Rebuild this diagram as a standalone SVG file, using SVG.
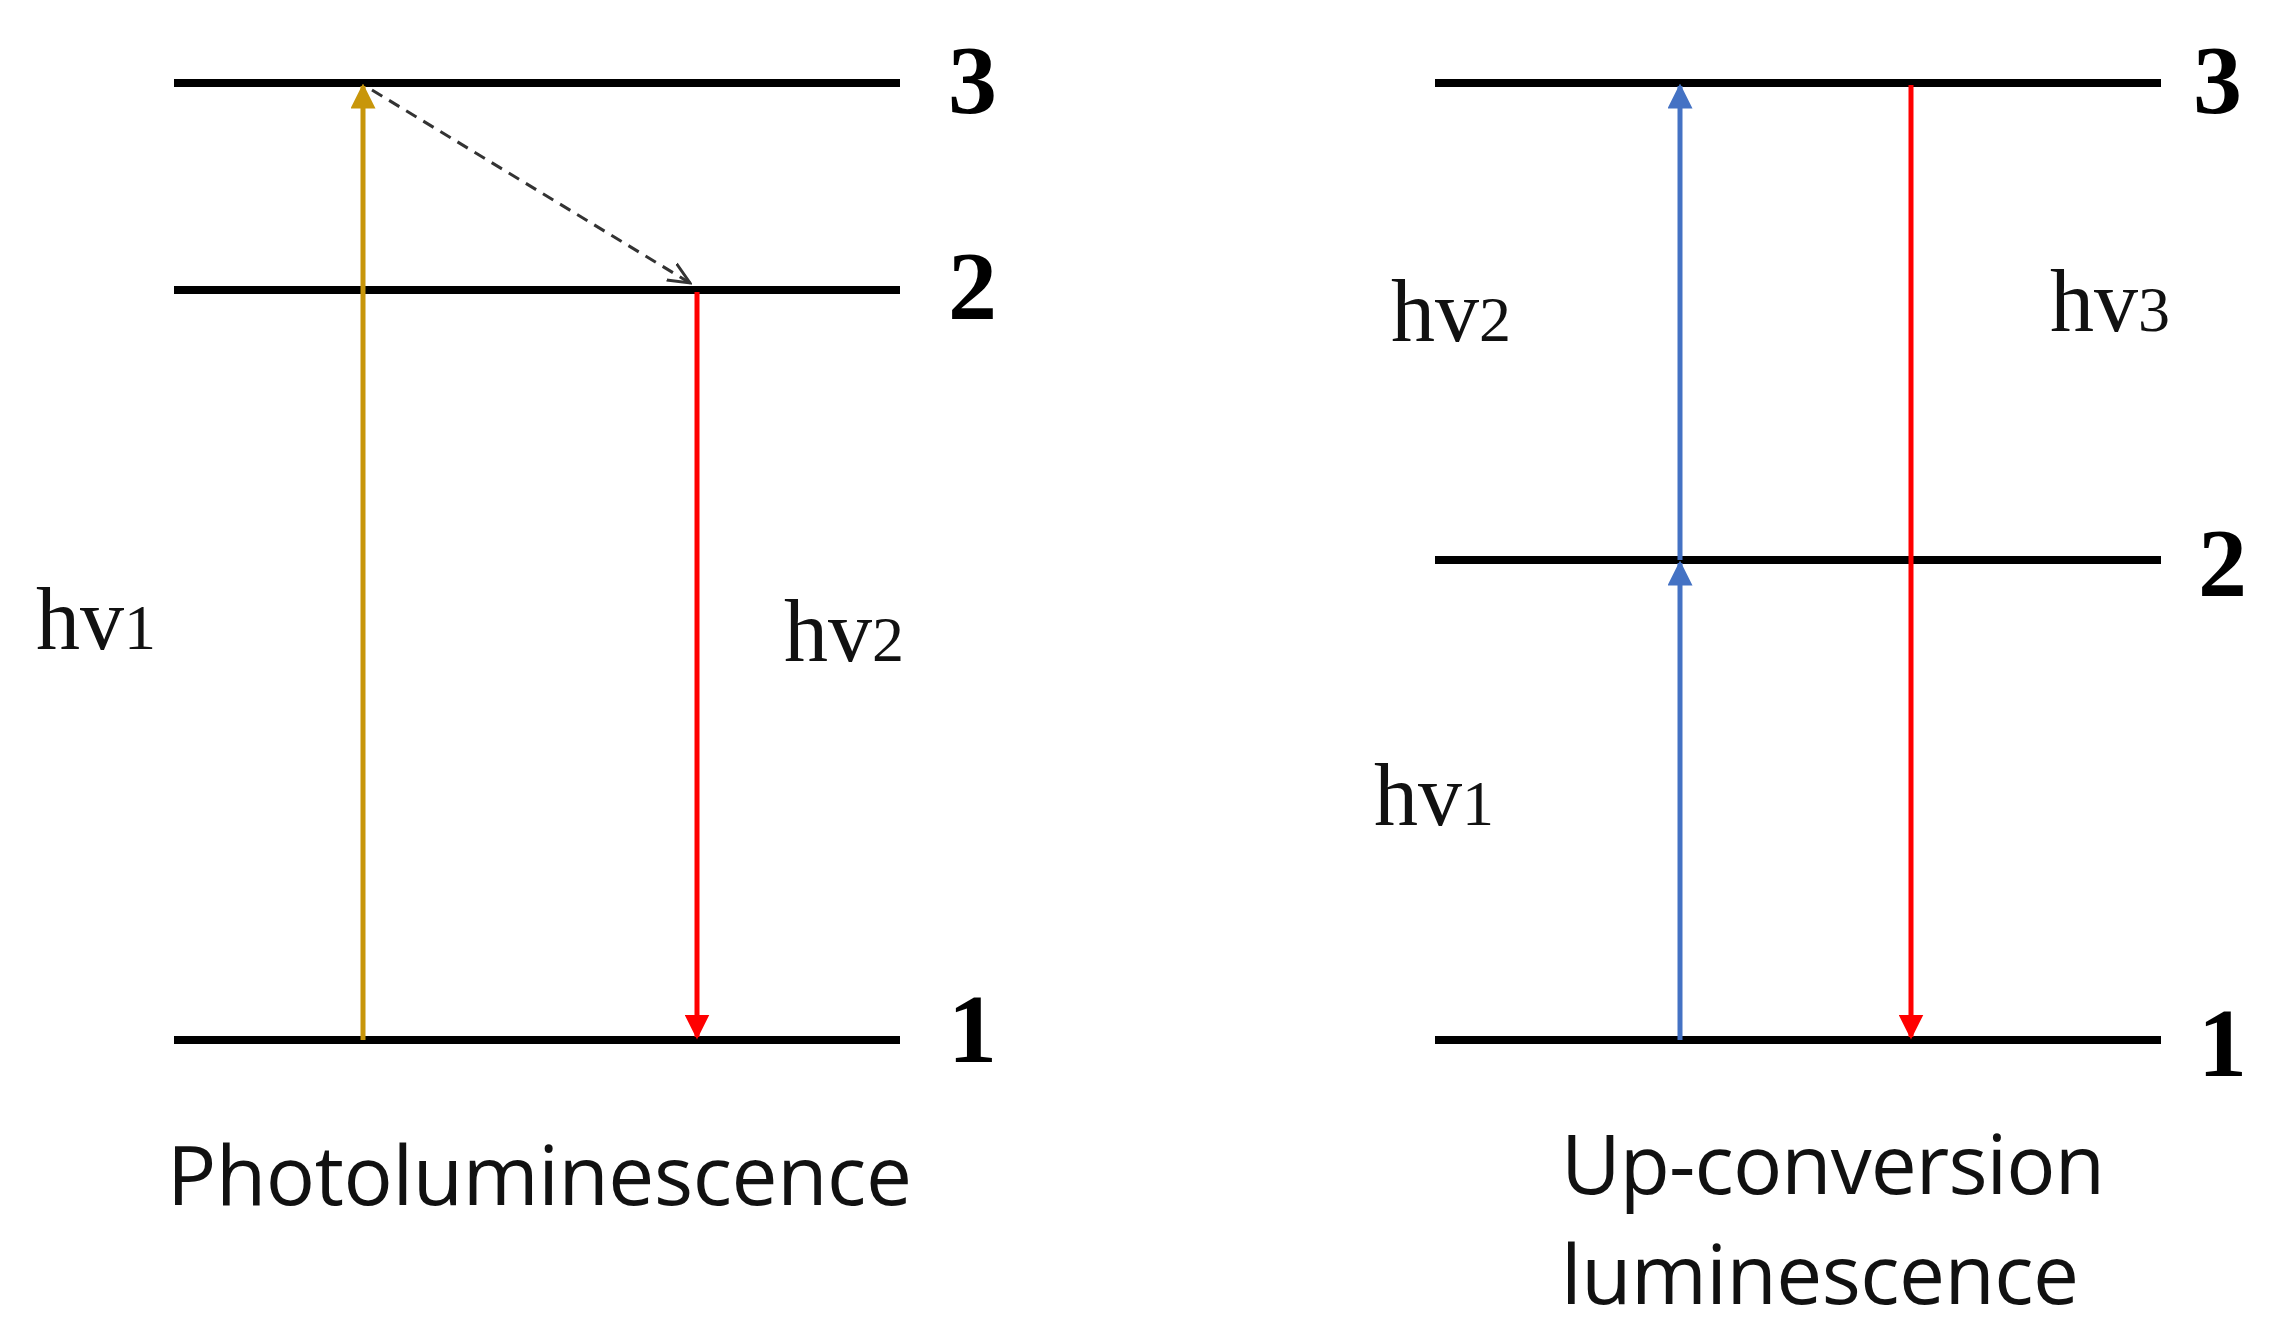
<svg xmlns="http://www.w3.org/2000/svg" width="2277" height="1344" viewBox="0 0 2277 1344">
<style>
.lvl{stroke:#000;stroke-width:8}
.num{font-family:"Liberation Serif",serif;font-weight:bold;font-size:98px;fill:#000}
.hv{font-family:"Liberation Serif",serif;font-size:88px;fill:#111}
.sub{font-size:64px}
.cap{font-family:"Open Sans","Noto Sans",sans-serif;font-size:82px;fill:#111}
</style>
<defs>
<marker id="aGold" viewBox="0 0 10 10" refX="9" refY="5" markerWidth="5" markerHeight="5" orient="auto"><path d="M0,0L10,5L0,10z" fill="#c8960a"/></marker>
<marker id="aRed" viewBox="0 0 10 10" refX="9" refY="5" markerWidth="5" markerHeight="5" orient="auto"><path d="M0,0L10,5L0,10z" fill="#ff0000"/></marker>
<marker id="aBlue" viewBox="0 0 10 10" refX="9" refY="5" markerWidth="5" markerHeight="5" orient="auto"><path d="M0,0L10,5L0,10z" fill="#4472c4"/></marker>
<marker id="aOpen" viewBox="0 0 10 10" refX="9" refY="5" markerWidth="8" markerHeight="8" orient="auto"><path d="M0,1L9,5L0,9" fill="none" stroke="#333" stroke-width="1.2"/></marker>
</defs>
<g id="levels-left">
<line class="lvl" x1="174" y1="83" x2="900" y2="83"/>
<line class="lvl" x1="174" y1="290" x2="900" y2="290"/>
<line class="lvl" x1="174" y1="1040" x2="900" y2="1040"/>
<text class="num" x="948" y="113">3</text>
<text class="num" x="948" y="319">2</text>
<text class="num" x="948" y="1062">1</text>
</g>
<g id="levels-right">
<line class="lvl" x1="1435" y1="83" x2="2161" y2="83"/>
<line class="lvl" x1="1435" y1="560" x2="2161" y2="560"/>
<line class="lvl" x1="1435" y1="1040" x2="2161" y2="1040"/>
<text class="num" x="2193" y="113">3</text>
<text class="num" x="2198" y="596">2</text>
<text class="num" x="2198" y="1076">1</text>
</g>
<g id="connectors" fill="none">
<line x1="363" y1="1040" x2="363" y2="86" stroke="#c8960a" stroke-width="5" marker-end="url(#aGold)"/>
<line x1="372" y1="90" x2="690" y2="283" stroke="#333" stroke-width="3" stroke-dasharray="12,8" marker-end="url(#aOpen)"/>
<line x1="697" y1="292" x2="697" y2="1037" stroke="#ff0000" stroke-width="5" marker-end="url(#aRed)"/>
<line x1="1680" y1="1040" x2="1680" y2="563" stroke="#4472c4" stroke-width="5" marker-end="url(#aBlue)"/>
<line x1="1680" y1="560" x2="1680" y2="86" stroke="#4472c4" stroke-width="5" marker-end="url(#aBlue)"/>
<line x1="1911" y1="85" x2="1911" y2="1037" stroke="#ff0000" stroke-width="5" marker-end="url(#aRed)"/>
</g>
<g id="labels">
<text class="hv" x="36" y="649">hv<tspan class="sub">1</tspan></text>
<text class="hv" x="784" y="661">hv<tspan class="sub">2</tspan></text>
<text class="hv" x="1391" y="341">hv<tspan class="sub">2</tspan></text>
<text class="hv" x="2050" y="331">hv<tspan class="sub">3</tspan></text>
<text class="hv" x="1374" y="825">hv<tspan class="sub">1</tspan></text>
<text class="cap" x="167" y="1205" textLength="745">Photoluminescence</text>
<text class="cap" x="1561" y="1194" textLength="544">Up-conversion</text>
<text class="cap" x="1561" y="1304" textLength="518">luminescence</text>
</g>
</svg>
